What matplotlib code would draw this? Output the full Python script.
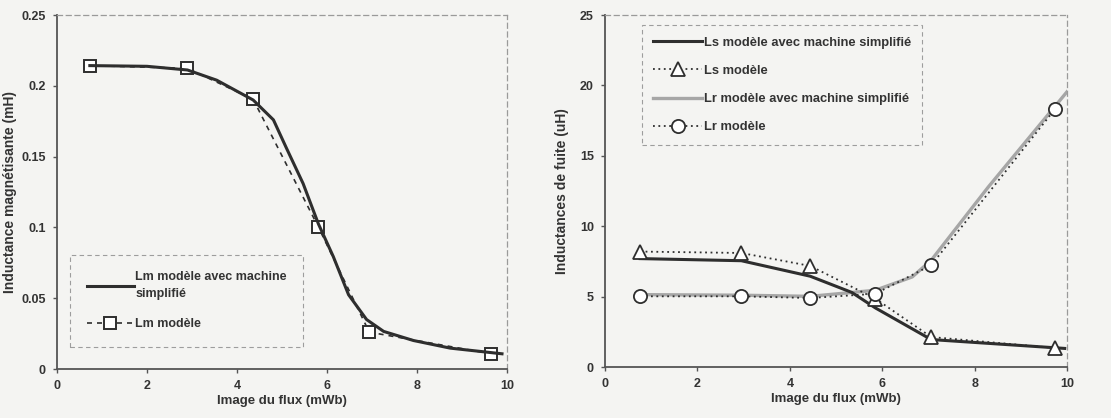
import matplotlib
matplotlib.use("Agg")
import matplotlib.pyplot as plt

# Left panel: magnetising inductance
lm_sim_x = [0.73, 2.0, 2.90, 3.55, 4.36, 4.81, 5.10, 5.47, 5.81, 6.14, 6.48, 6.88, 7.26, 7.92, 8.74, 9.89]
lm_sim_y = [0.2143, 0.2138, 0.2112, 0.204, 0.190, 0.176, 0.156, 0.131, 0.1025, 0.0795, 0.0525, 0.035, 0.0266, 0.0202, 0.0148, 0.0108]
lm_mod_x = [0.73, 2.90, 4.36, 5.81, 6.94, 9.65]
lm_mod_y = [0.2143, 0.2124, 0.1905, 0.1002, 0.0261, 0.0108]

# Right panel: leakage inductances
ls_sim_x = [0.76, 2.95, 4.44, 5.34, 5.85, 7.06, 9.95]
ls_sim_y = [7.70, 7.55, 6.45, 5.30, 4.20, 1.95, 1.32]
ls_mod_x = [0.76, 2.95, 4.44, 5.85, 7.06, 9.75]
ls_mod_y = [8.20, 8.10, 7.18, 4.86, 2.13, 1.35]
lr_sim_x = [0.76, 2.95, 4.44, 5.85, 6.65, 7.06, 8.30, 10.0]
lr_sim_y = [5.14, 5.10, 5.02, 5.45, 6.40, 7.58, 12.8, 19.55]
lr_mod_x = [0.76, 2.95, 4.44, 5.85, 7.06, 9.75]
lr_mod_y = [5.02, 5.02, 4.90, 5.20, 7.23, 18.36]

BG = "#f4f4f2"
DARK = "#2e2e2e"
GREY = "#a6a6a6"
TXT = "#333333"

plt.rcParams["font.family"] = ["Liberation Sans", "DejaVu Sans"]
plt.rcParams["font.weight"] = "bold"

fig = plt.figure(figsize=(11.11, 4.18), dpi=100)
fig.patch.set_facecolor(BG)
ax1 = fig.add_axes([0.0513, 0.117, 0.405, 0.847])
ax2 = fig.add_axes([0.5446, 0.122, 0.4158, 0.842])


def style_axes(ax):
    ax.set_facecolor(BG)
    for s in ("left", "bottom"):
        ax.spines[s].set_color("#555555")
        ax.spines[s].set_linewidth(1.3)
    for s in ("top", "right"):
        ax.spines[s].set_color("#9a9a9a")
        ax.spines[s].set_linestyle((0, (4, 3)))
        ax.spines[s].set_linewidth(0.9)
    ax.tick_params(direction="out", length=3, width=1, colors="#555555",
                   labelsize=9, labelcolor=TXT, pad=5)
    for lab in ax.get_xticklabels() + ax.get_yticklabels():
        lab.set_fontweight("bold")
    ax.set_xlim(0, 10)
    ax.set_xticks([0, 2, 4, 6, 8, 10])
    ax.set_xlabel("Image du flux (mWb)", fontsize=9.5, fontweight="bold", color=TXT, labelpad=2)


# left
ax1.plot(lm_mod_x, lm_mod_y, color=DARK, linestyle=(0, (3, 3)), linewidth=1.2,
         marker="s", markersize=9, markerfacecolor="white", markeredgecolor=DARK,
         markeredgewidth=1.4, label="Lm modèle", zorder=2)
ax1.plot(lm_sim_x, lm_sim_y, color=DARK, linewidth=2.2, solid_joinstyle="round",
         label="Lm modèle avec machine\nsimplifié", zorder=3)
ax1.set_ylim(0, 0.25)
ax1.set_yticks([0, 0.05, 0.1, 0.15, 0.2, 0.25])
ax1.set_yticklabels(["0", "0.05", "0.1", "0.15", "0.2", "0.25"])
ax1.set_ylabel("Inductance magnétisante (mH)", fontsize=10, fontweight="bold", color=TXT, labelpad=3)
style_axes(ax1)
h, l = ax1.get_legend_handles_labels()
leg1 = ax1.legend(h[::-1], l[::-1], loc="upper left", bbox_to_anchor=(0.016, 0.34),
                  fontsize=9, handlelength=3.8, borderpad=1.3, labelspacing=1.5,
                  handletextpad=0.1, frameon=True, fancybox=False, facecolor=BG,
                  edgecolor="#888888")
leg1.get_frame().set_linestyle((0, (4, 3)))
leg1.get_frame().set_linewidth(0.8)
for t in leg1.get_texts():
    t.set_color(TXT)
    t.set_linespacing(1.5)

# right
ax2.plot(lr_sim_x, lr_sim_y, color=GREY, linewidth=2.4, solid_joinstyle="round",
         label="Lr modèle avec machine simplifié", zorder=2)
ax2.plot(ls_sim_x, ls_sim_y, color=DARK, linewidth=2.2, solid_joinstyle="round",
         label="Ls modèle avec machine simplifié", zorder=3)
ax2.plot(ls_mod_x, ls_mod_y, color=DARK, linestyle=(0, (1, 2)), linewidth=1.3,
         marker="^", markersize=10, markerfacecolor="white", markeredgecolor=DARK,
         markeredgewidth=1.3, label="Ls modèle", zorder=4)
ax2.plot(lr_mod_x, lr_mod_y, color=DARK, linestyle=(0, (1, 2)), linewidth=1.3,
         marker="o", markersize=9.5, markerfacecolor="white", markeredgecolor=DARK,
         markeredgewidth=1.3, label="Lr modèle", zorder=5)
ax2.set_ylim(0, 25)
ax2.set_yticks([0, 5, 10, 15, 20, 25])
ax2.set_ylabel("Inductances de fuite (uH)", fontsize=10, fontweight="bold", color=TXT, labelpad=8)
style_axes(ax2)
h, l = ax2.get_legend_handles_labels()
order = [1, 2, 0, 3]
leg2 = ax2.legend([h[i] for i in order], [l[i] for i in order], loc="upper left",
                  bbox_to_anchor=(0.065, 0.99), fontsize=9.3, handlelength=3.8,
                  borderpad=0.9, labelspacing=1.25, handletextpad=0.1, frameon=True,
                  fancybox=False, facecolor=BG, edgecolor="#888888")
leg2.get_frame().set_linestyle((0, (4, 3)))
leg2.get_frame().set_linewidth(0.8)
for t in leg2.get_texts():
    t.set_color(TXT)

fig.savefig("out.png", dpi=100, facecolor=BG)
